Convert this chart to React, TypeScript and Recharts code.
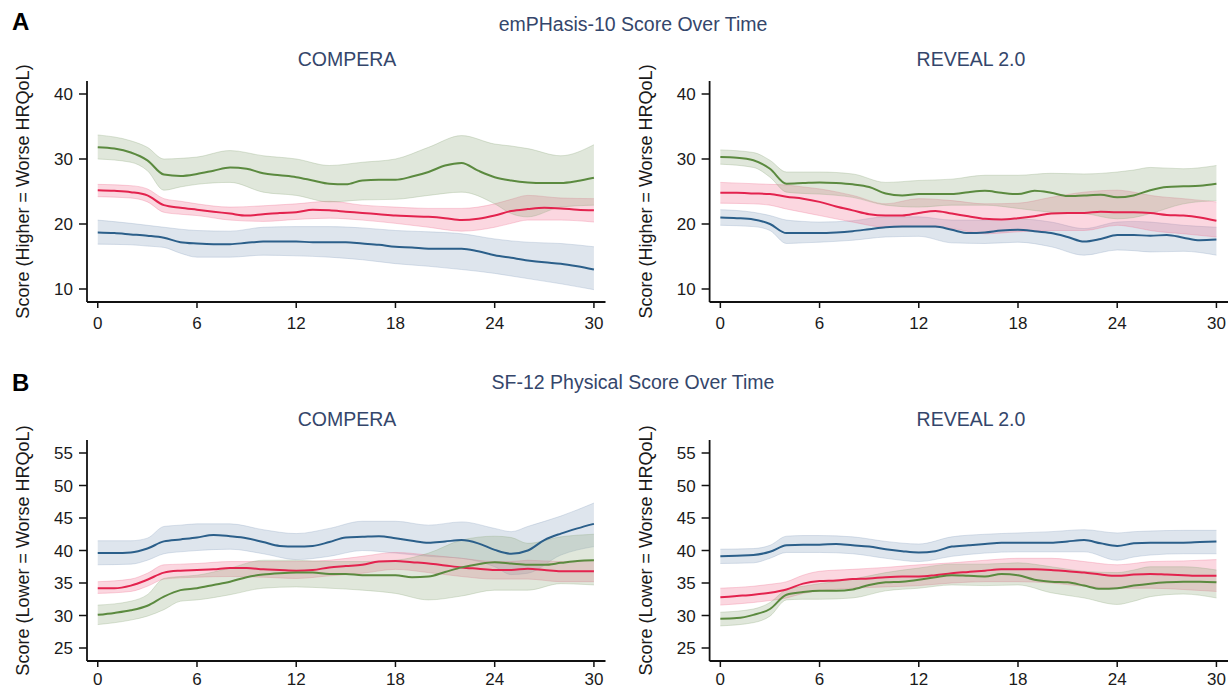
import { Area, ComposedChart, Line, XAxis, YAxis } from 'recharts';

// month grid for the mean lines, and a coarser one for the CI bands
const MONTHS = [0, 1, 2, 3, 4, 5, 6, 7, 8, 9, 10, 11, 12, 13, 14, 15, 16, 17, 18, 19, 20, 21, 22, 23, 24, 25, 26, 27, 28, 29, 30];
const BAND_MONTHS = [0, 2, 3, 4, 5, 6, 8, 10, 12, 14, 16, 18, 20, 22, 24, 25, 26, 28, 30];
const X_TICKS = [0, 6, 12, 18, 24, 30];

const A_TICKS = [10, 20, 30, 40];
const B_TICKS = [25, 30, 35, 40, 45, 50, 55];

// --- A: emPHasis-10, COMPERA ---
const A_COMPERA_BLUE = [18.7, 18.6, 18.4, 18.2, 17.9, 17.2, 17.0, 16.9, 16.9, 17.1, 17.3, 17.3, 17.3, 17.2, 17.2, 17.2, 17.0, 16.8, 16.5, 16.4, 16.2, 16.2, 16.2, 15.8, 15.2, 14.8, 14.4, 14.1, 13.9, 13.5, 13.0];
const A_COMPERA_RED = [25.2, 25.1, 24.9, 24.4, 22.9, 22.5, 22.2, 21.9, 21.6, 21.3, 21.5, 21.7, 21.8, 22.2, 22.1, 21.9, 21.7, 21.5, 21.3, 21.2, 21.1, 20.9, 20.6, 20.8, 21.3, 22.0, 22.3, 22.5, 22.4, 22.2, 22.1];
const A_COMPERA_GREEN = [31.8, 31.6, 31.0, 29.8, 27.6, 27.4, 27.7, 28.2, 28.7, 28.5, 27.8, 27.5, 27.2, 26.7, 26.2, 26.1, 26.7, 26.8, 26.8, 27.3, 28.0, 29.0, 29.4, 28.2, 27.2, 26.7, 26.4, 26.3, 26.3, 26.6, 27.1];
const A_COMPERA_BLUE_LO = [16.9, 16.8, 16.6, 16.4, 15.5, 14.9, 14.9, 15.2, 15.1, 14.9, 14.5, 13.9, 13.5, 13.0, 12.4, 12.0, 11.6, 10.8, 9.9];
const A_COMPERA_BLUE_HI = [20.6, 20.1, 19.8, 19.5, 19.2, 19.0, 18.9, 19.5, 19.6, 19.6, 19.4, 19.0, 18.8, 18.5, 17.7, 17.4, 17.2, 17.0, 16.5];
const A_COMPERA_RED_LO = [24.2, 24.0, 23.4, 21.8, 21.5, 21.3, 20.6, 20.4, 20.7, 20.9, 20.6, 20.1, 19.5, 18.9, 19.5, 20.1, 20.6, 20.6, 20.3];
const A_COMPERA_RED_HI = [26.1, 25.9, 25.4, 23.9, 23.5, 23.1, 22.6, 22.8, 23.1, 23.5, 22.9, 22.6, 22.4, 22.4, 23.1, 23.8, 24.4, 24.0, 23.9];
const A_COMPERA_GREEN_LO = [30.0, 29.5, 28.2, 25.2, 25.7, 26.1, 26.4, 24.9, 24.4, 23.4, 23.7, 23.8, 24.4, 24.9, 23.1, 21.6, 21.1, 22.6, 22.9];
const A_COMPERA_GREEN_HI = [33.7, 32.8, 31.8, 30.0, 30.1, 30.3, 31.3, 30.5, 30.0, 29.0, 29.5, 30.0, 31.8, 33.6, 32.3, 32.0, 31.6, 30.5, 32.2];

// --- A: emPHasis-10, REVEAL 2.0 ---
const A_REVEAL_BLUE = [21.0, 20.9, 20.7, 20.0, 18.6, 18.6, 18.6, 18.7, 18.9, 19.2, 19.5, 19.6, 19.6, 19.6, 19.1, 18.6, 18.7, 19.0, 19.1, 18.9, 18.6, 18.0, 17.3, 17.7, 18.3, 18.3, 18.2, 18.3, 17.9, 17.5, 17.6];
const A_REVEAL_RED = [24.8, 24.8, 24.7, 24.6, 24.2, 23.9, 23.4, 22.7, 22.1, 21.5, 21.3, 21.3, 21.7, 22.0, 21.6, 21.2, 20.8, 20.7, 20.9, 21.2, 21.6, 21.7, 21.7, 21.9, 21.8, 21.8, 21.7, 21.4, 21.3, 21.0, 20.5];
const A_REVEAL_GREEN = [30.3, 30.2, 29.8, 28.5, 26.2, 26.3, 26.4, 26.3, 26.1, 25.7, 24.7, 24.4, 24.6, 24.6, 24.6, 24.9, 25.1, 24.8, 24.6, 25.1, 24.8, 24.3, 24.4, 24.5, 24.1, 24.4, 25.2, 25.7, 25.8, 25.9, 26.2];
const A_REVEAL_BLUE_LO = [19.8, 19.6, 19.0, 17.0, 17.1, 17.2, 17.5, 18.0, 18.1, 17.1, 17.0, 17.2, 16.5, 15.2, 16.0, 15.9, 15.7, 15.8, 15.2];
const A_REVEAL_BLUE_HI = [22.2, 21.8, 21.3, 20.6, 20.4, 20.3, 20.5, 21.1, 21.1, 20.6, 20.6, 20.8, 20.3, 19.3, 20.3, 20.4, 20.3, 19.8, 19.5];
const A_REVEAL_RED_LO = [23.2, 23.1, 22.9, 22.3, 21.8, 21.3, 20.3, 19.5, 19.6, 19.3, 18.5, 18.8, 19.0, 19.0, 19.8, 19.5, 19.0, 18.5, 18.0];
const A_REVEAL_RED_HI = [26.4, 26.2, 26.1, 26.0, 25.7, 25.4, 24.4, 23.1, 23.9, 23.6, 23.1, 23.2, 24.1, 24.9, 25.2, 24.9, 24.4, 23.9, 23.4];
const A_REVEAL_GREEN_LO = [29.2, 28.7, 27.2, 24.9, 24.7, 24.6, 24.1, 22.9, 22.6, 22.9, 22.9, 22.4, 21.8, 21.6, 20.8, 21.0, 21.6, 23.1, 23.6];
const A_REVEAL_GREEN_HI = [31.4, 31.0, 29.8, 28.0, 28.0, 28.0, 27.7, 26.4, 26.7, 26.9, 27.5, 27.5, 27.8, 27.7, 28.0, 28.3, 28.7, 28.5, 29.0];

// --- B: SF-12 physical, COMPERA ---
const B_COMPERA_BLUE = [39.6, 39.6, 39.7, 40.3, 41.4, 41.7, 42.0, 42.4, 42.2, 41.9, 41.3, 40.7, 40.6, 40.7, 41.3, 42.0, 42.1, 42.2, 41.9, 41.5, 41.2, 41.4, 41.6, 41.1, 40.1, 39.5, 40.0, 41.6, 42.6, 43.4, 44.1];
const B_COMPERA_RED = [34.2, 34.2, 34.6, 35.5, 36.6, 36.9, 37.0, 37.1, 37.3, 37.3, 37.1, 37.0, 36.9, 37.0, 37.4, 37.6, 37.8, 38.3, 38.4, 38.2, 38.0, 37.7, 37.4, 37.2, 37.0, 37.0, 37.2, 37.0, 36.8, 36.8, 36.8];
const B_COMPERA_GREEN = [30.1, 30.4, 30.8, 31.5, 32.9, 33.9, 34.2, 34.7, 35.2, 35.9, 36.3, 36.5, 36.6, 36.6, 36.4, 36.4, 36.2, 36.2, 36.2, 35.9, 36.0, 36.7, 37.4, 37.9, 38.2, 38.0, 37.8, 37.8, 38.1, 38.4, 38.5];
const B_COMPERA_BLUE_LO = [37.8, 37.9, 38.5, 39.5, 39.8, 40.0, 40.2, 39.5, 38.6, 39.1, 40.0, 39.6, 39.1, 38.8, 37.5, 36.3, 36.5, 39.3, 40.6];
const B_COMPERA_BLUE_HI = [41.5, 41.5, 41.9, 43.7, 43.9, 44.1, 44.1, 43.2, 42.6, 43.4, 44.5, 44.5, 43.9, 44.4, 43.4, 42.9, 43.7, 45.3, 47.3];
const B_COMPERA_RED_LO = [33.4, 33.7, 34.5, 35.6, 35.8, 35.9, 36.0, 35.9, 35.7, 36.1, 36.5, 37.1, 36.6, 36.0, 35.6, 35.6, 35.6, 35.2, 35.2];
const B_COMPERA_RED_HI = [35.2, 35.6, 36.5, 37.8, 37.9, 38.0, 38.3, 38.3, 38.3, 38.5, 39.1, 39.7, 39.3, 38.8, 38.3, 38.3, 38.5, 38.3, 38.5];
const B_COMPERA_GREEN_LO = [28.6, 29.3, 29.9, 30.9, 32.2, 32.4, 33.2, 34.2, 34.4, 34.2, 33.9, 33.4, 32.4, 33.0, 33.9, 33.9, 33.9, 34.9, 34.7];
const B_COMPERA_GREEN_HI = [31.6, 32.2, 33.2, 35.7, 36.0, 36.2, 37.3, 38.5, 38.5, 38.3, 38.3, 38.5, 39.6, 41.6, 42.2, 42.0, 41.1, 42.1, 42.5];

// --- B: SF-12 physical, REVEAL 2.0 ---
const B_REVEAL_BLUE = [39.1, 39.2, 39.3, 39.8, 40.8, 40.9, 40.9, 41.0, 40.8, 40.6, 40.2, 39.9, 39.7, 39.9, 40.6, 40.8, 41.0, 41.2, 41.2, 41.2, 41.2, 41.4, 41.6, 41.1, 40.7, 41.1, 41.2, 41.2, 41.2, 41.3, 41.4];
const B_REVEAL_RED = [32.8, 33.0, 33.2, 33.5, 34.0, 34.9, 35.3, 35.4, 35.6, 35.7, 35.9, 36.0, 36.0, 36.2, 36.5, 36.7, 36.9, 37.1, 37.1, 37.1, 37.0, 36.8, 36.6, 36.3, 36.1, 36.3, 36.4, 36.3, 36.2, 36.1, 36.1];
const B_REVEAL_GREEN = [29.5, 29.6, 30.1, 31.0, 33.2, 33.6, 33.8, 33.8, 34.0, 34.7, 35.1, 35.2, 35.5, 35.9, 36.2, 36.1, 36.0, 36.4, 36.2, 35.5, 35.2, 35.1, 34.6, 34.1, 34.2, 34.6, 34.9, 35.1, 35.2, 35.2, 35.1];
const B_REVEAL_BLUE_LO = [38.0, 38.1, 38.8, 39.7, 39.7, 39.7, 39.5, 38.8, 38.3, 39.1, 39.6, 39.8, 39.8, 39.8, 38.5, 39.0, 39.3, 39.5, 39.5];
const B_REVEAL_BLUE_HI = [40.2, 40.3, 40.8, 42.2, 42.3, 42.3, 42.1, 41.4, 41.0, 42.1, 42.5, 42.7, 42.9, 43.2, 42.7, 42.9, 43.0, 43.1, 43.1];
const B_REVEAL_RED_LO = [31.6, 32.0, 32.3, 32.7, 33.4, 33.8, 34.2, 34.4, 34.6, 35.0, 35.2, 35.2, 35.0, 34.5, 34.2, 34.2, 34.2, 34.0, 33.7];
const B_REVEAL_RED_HI = [34.2, 34.5, 34.8, 35.2, 36.2, 36.8, 37.1, 37.4, 37.8, 38.1, 38.5, 38.8, 38.8, 38.3, 37.8, 38.0, 38.3, 38.4, 38.6];
const B_REVEAL_GREEN_LO = [28.4, 28.9, 29.9, 32.4, 32.5, 32.5, 32.7, 33.8, 34.2, 34.7, 34.6, 34.7, 33.5, 32.7, 31.7, 32.2, 32.9, 33.3, 32.7];
const B_REVEAL_GREEN_HI = [30.5, 31.0, 32.0, 34.0, 34.5, 34.9, 35.6, 36.6, 37.3, 37.9, 37.9, 38.1, 37.5, 36.8, 36.6, 37.0, 37.5, 37.5, 37.0];

const BLUE = '#2b5f8a';
const RED = '#e3234e';
const GREEN = '#5b8a3f';
const BLUE_FILL = '#8aa2c0';
const RED_FILL = '#f06e8e';
const GREEN_FILL = '#8fa87e';
const TITLE_COLOR = '#34466b';
const FONT = '"Liberation Sans", Arial, Helvetica, sans-serif';

const lineRows = (vals: number[]) => MONTHS.map((x, i) => ({ x, y: vals[i] }));
const bandRows = (lo: number[], hi: number[]) => BAND_MONTHS.map((x, i) => ({ x, band: [lo[i], hi[i]] }));

type Series = { color: string; fill: string; mean: number[]; lo: number[]; hi: number[] };

function Panel(props: {
  left: number; top: number; width: number; marginLeft: number; marginRight: number; xTickMargin: number;
  yLabel: string; domain: [number, number]; ticks: number[]; series: Series[]; labelOffset: number;
}) {
  const { left, top, width, marginLeft, marginRight, xTickMargin, yLabel, domain, ticks, series, labelOffset } = props;
  return (
    <div style={{ position: 'absolute', left, top }}>
      <ComposedChart width={width} height={345} margin={{ top: 81, right: marginRight, bottom: 15, left: 5 }}>
        <XAxis
          type="number"
          dataKey="x"
          domain={[-0.65, 30.7]}
          ticks={X_TICKS}
          allowDataOverflow
          height={28}
          tickSize={6}
          tickMargin={xTickMargin}
          axisLine={{ stroke: '#111', strokeWidth: 1.8 }}
          tickLine={{ stroke: '#111', strokeWidth: 1.5 }}
          tick={{ fill: '#1a1a1a', fontSize: 17, fontFamily: FONT }}
        />
        <YAxis
          type="number"
          domain={domain}
          ticks={ticks}
          allowDataOverflow
          width={marginLeft - 5}
          tickSize={8}
          tickMargin={6}
          axisLine={{ stroke: '#111', strokeWidth: 1.8 }}
          tickLine={{ stroke: '#111', strokeWidth: 1.5 }}
          tick={{ fill: '#1a1a1a', fontSize: 17, fontFamily: FONT }}
          label={{
            value: yLabel,
            angle: -90,
            position: 'insideLeft',
            offset: labelOffset,
            style: { textAnchor: 'middle', fill: '#1a1a1a', fontSize: 18, fontFamily: FONT },
          }}
        />
        {series.map((s, i) => (
          <Area
            key={'band' + i}
            data={bandRows(s.lo, s.hi)}
            dataKey="band"
            type="monotone"
            fill={s.fill}
            fillOpacity={0.28}
            stroke={s.fill}
            strokeOpacity={0.3}
            strokeWidth={1}
            isAnimationActive={false}
          />
        ))}
        {series.map((s, i) => (
          <Line
            key={'line' + i}
            data={lineRows(s.mean)}
            dataKey="y"
            type="monotone"
            stroke={s.color}
            strokeWidth={2}
            dot={false}
            isAnimationActive={false}
          />
        ))}
      </ComposedChart>
    </div>
  );
}

const titleStyle = (top: number, left: number, width: number) => ({
  position: 'absolute' as const,
  top,
  left,
  width,
  textAlign: 'center' as const,
  fontFamily: FONT,
  fontSize: 19.5,
  lineHeight: '19.5px',
  color: TITLE_COLOR,
  whiteSpace: 'nowrap' as const,
});

const letterStyle = (top: number) => ({
  position: 'absolute' as const,
  top,
  left: 12,
  fontFamily: FONT,
  fontSize: 24,
  lineHeight: '24px',
  fontWeight: 700,
  color: '#000',
});

export default function App() {
  const mk = (mean: number[], lo: number[], hi: number[], color: string, fill: string): Series => ({ mean, lo, hi, color, fill });

  const aCompera = [
    mk(A_COMPERA_BLUE, A_COMPERA_BLUE_LO, A_COMPERA_BLUE_HI, BLUE, BLUE_FILL),
    mk(A_COMPERA_RED, A_COMPERA_RED_LO, A_COMPERA_RED_HI, RED, RED_FILL),
    mk(A_COMPERA_GREEN, A_COMPERA_GREEN_LO, A_COMPERA_GREEN_HI, GREEN, GREEN_FILL),
  ];
  const aReveal = [
    mk(A_REVEAL_BLUE, A_REVEAL_BLUE_LO, A_REVEAL_BLUE_HI, BLUE, BLUE_FILL),
    mk(A_REVEAL_RED, A_REVEAL_RED_LO, A_REVEAL_RED_HI, RED, RED_FILL),
    mk(A_REVEAL_GREEN, A_REVEAL_GREEN_LO, A_REVEAL_GREEN_HI, GREEN, GREEN_FILL),
  ];
  const bCompera = [
    mk(B_COMPERA_BLUE, B_COMPERA_BLUE_LO, B_COMPERA_BLUE_HI, BLUE, BLUE_FILL),
    mk(B_COMPERA_RED, B_COMPERA_RED_LO, B_COMPERA_RED_HI, RED, RED_FILL),
    mk(B_COMPERA_GREEN, B_COMPERA_GREEN_LO, B_COMPERA_GREEN_HI, GREEN, GREEN_FILL),
  ];
  const bReveal = [
    mk(B_REVEAL_BLUE, B_REVEAL_BLUE_LO, B_REVEAL_BLUE_HI, BLUE, BLUE_FILL),
    mk(B_REVEAL_RED, B_REVEAL_RED_LO, B_REVEAL_RED_HI, RED, RED_FILL),
    mk(B_REVEAL_GREEN, B_REVEAL_GREEN_LO, B_REVEAL_GREEN_HI, GREEN, GREEN_FILL),
  ];

  const higher = 'Score (Higher = Worse HRQoL)';
  const lower = 'Score (Lower = Worse HRQoL)';

  return (
    <div style={{ position: 'absolute', left: 0, top: 0, width: 1232, height: 690, background: '#fff', overflow: 'hidden' }}>
      <div style={letterStyle(10)}>A</div>
      <div style={titleStyle(14.5, 333, 600)}>emPHasis-10 Score Over Time</div>
      <div style={titleStyle(50, 197, 300)}>COMPERA</div>
      <div style={titleStyle(50, 821, 300)}>REVEAL 2.0</div>

      <div style={letterStyle(371)}>B</div>
      <div style={titleStyle(373, 333, 600)}>SF-12 Physical Score Over Time</div>
      <div style={titleStyle(409.5, 197, 300)}>COMPERA</div>
      <div style={titleStyle(409.5, 821, 300)}>REVEAL 2.0</div>

      <Panel left={0} top={0} width={615} marginLeft={87} marginRight={9.5} labelOffset={18} xTickMargin={9}
        yLabel={higher} domain={[8, 42]} ticks={A_TICKS} series={aCompera} />
      <Panel left={620} top={0} width={612} marginLeft={89.6} marginRight={4} labelOffset={20.7} xTickMargin={9}
        yLabel={higher} domain={[8, 42]} ticks={A_TICKS} series={aReveal} />
      <Panel left={0} top={359.3} width={615} marginLeft={87} marginRight={9.5} labelOffset={18} xTickMargin={6}
        yLabel={lower} domain={[23, 57]} ticks={B_TICKS} series={bCompera} />
      <Panel left={620} top={359.3} width={612} marginLeft={89.6} marginRight={4} labelOffset={20.7} xTickMargin={6}
        yLabel={lower} domain={[23, 57]} ticks={B_TICKS} series={bReveal} />
    </div>
  );
}
